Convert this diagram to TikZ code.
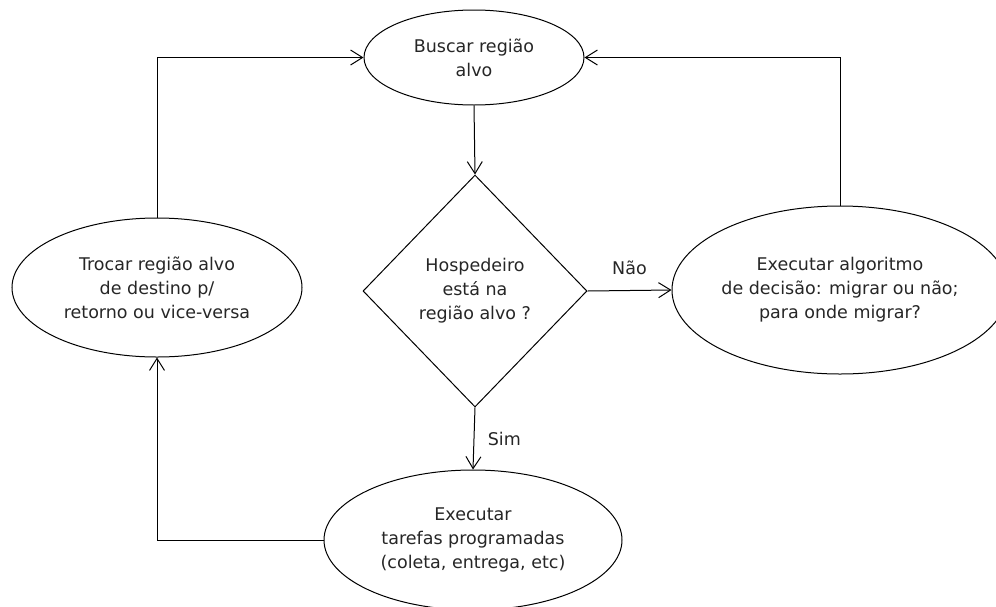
\documentclass[tikz,border=0pt]{standalone}
\usepackage{fontspec}
\setmainfont{DejaVu Sans}
\usetikzlibrary{shapes.geometric,arrows.meta}
\begin{document}
\begin{tikzpicture}[x=1pt,y=-1pt,
  every node/.style={font=\fontsize{17.5}{24}\selectfont, text=black!85},
  flowline/.style={draw=black, line width=1pt},
  arrowline/.style={flowline, -{Straight Barb[length=12pt,width=15pt,line width=1pt]}},
  oval/.style={ellipse, draw=black, line width=1pt, inner sep=0pt, align=center},
  choice/.style={diamond, draw=black, line width=1pt, inner sep=0pt, align=center},
  edgelabel/.style={font=\fontsize{17.5}{24}\selectfont}]
  \useasboundingbox (0,0) rectangle (996,606);

  % process steps
  \node[oval, minimum width=220pt, minimum height=95pt] (busca) at (474,57.5)
    {Buscar região\\alvo};
  \node[choice, minimum width=224pt, minimum height=232pt] (teste) at (475,291)
    {Hospedeiro\\está na\\região alvo ?};
  \node[oval, minimum width=336pt, minimum height=168pt] (decide) at (840,290)
    {Executar algoritmo\\de decisão: migrar ou não;\\para onde migrar?};
  \node[oval, minimum width=290pt, minimum height=139pt] (troca) at (157,287.5)
    {Trocar região alvo\\de destino p/\\retorno ou vice-versa};
  \node[oval, minimum width=298pt, minimum height=140pt] (tarefas) at (473,540)
    {Executar\\tarefas programadas\\(coleta, entrega, etc)};

  % connectors
  \draw[arrowline] (busca.south) -- (teste.north);
  \draw[arrowline] (teste.east) -- (decide.west)
    node[edgelabel, midway, above=12pt] {Não};
  \draw[arrowline] (teste.south) -- (tarefas.north)
    node[edgelabel, midway, right=10pt] {Sim};
  \draw[arrowline] (decide.north) |- (busca.east);
  \draw[arrowline] (troca.north) |- (busca.west);
  \draw[arrowline] (tarefas.west) -| (troca.south);
\end{tikzpicture}
\end{document}
